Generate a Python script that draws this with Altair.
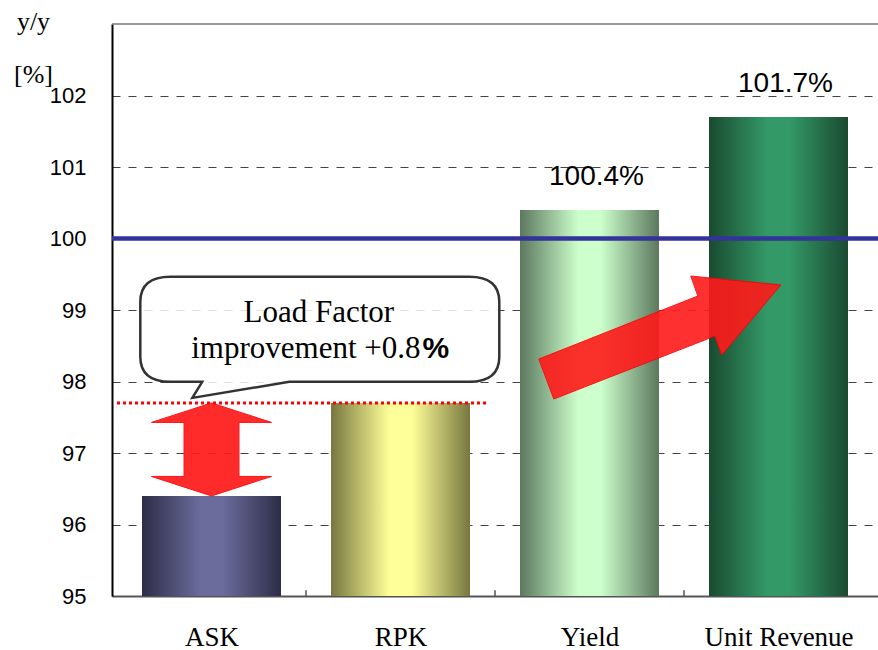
import json
import altair as alt
import pandas as pd

# ---------------- data ----------------
categories = ["ASK", "RPK", "Yield", "Unit Revenue"]
values = [96.4, 97.7, 100.4, 101.7]
labeled_categories = ["Yield", "Unit Revenue"]
y_domain = [95, 103]
y_ticks = [95, 96, 97, 98, 99, 100, 101, 102]
reference_level = 100
callout_line1 = "Load Factor"
callout_line2 = "improvement +0.8"
callout_pct = "%"
y_title_lines = ["y/y", "[%]"]

# annotation anchors, in data units (x: category units 0..4, y: percent)
dotted_line_x = [0.0, 1.96]
callout_x, callout_y = 1.073, 98.73
callout_text_x = 1.068
callout_split_x = 1.606
callout_text_y = [98.83, 98.33]
double_arrow_x = 0.5
diag_arrow_x, diag_arrow_y = 2.872, 98.615

# ---------------- styles ----------------
gradient_colors = {
    "ASK": ("#2d2d47", "#6b6b9c"),
    "RPK": ("#77773f", "#ffff99"),
    "Yield": ("#5c785e", "#ccffcc"),
    "Unit Revenue": ("#1a4a31", "#339966"),
}


def grad(edge, mid):
    return {
        "gradient": "linear", "x1": 0, "x2": 1, "y1": 0, "y2": 0,
        "stops": [
            {"offset": 0, "color": edge},
            {"offset": 0.42, "color": mid},
            {"offset": 0.58, "color": mid},
            {"offset": 1, "color": edge},
        ],
    }


SANS = "Liberation Sans"
SERIF = "Liberation Serif"
BAR_PX = 139

df = pd.DataFrame({"category": categories, "value": values})
df["pos"] = [i + 0.5 for i in range(len(categories))]
df["base"] = y_domain[0]
df["label"] = [f"{v}%" for v in values]

xscale = alt.Scale(domain=[0, len(categories)], nice=False, zero=False)
yscale = alt.Scale(domain=y_domain, nice=False, zero=False)

label_expr = f"{json.dumps(categories)}[floor(datum.value)]"

x_axis = alt.Axis(values=[i + 0.5 for i in range(len(categories))], labelExpr=label_expr,
                  labelFont=SERIF, labelFontSize=27, labelColor="black", labelAngle=0,
                  ticks=False, labelPadding=49, labelBaseline="alphabetic",
                  labelFlush=False, labelOverlap=False,
                  domainColor="#555555", domainWidth=2, grid=False)
y_axis = alt.Axis(values=y_ticks, labelFont=SANS, labelFontSize=22,
                  labelColor="black", ticks=False, labelPadding=26,
                  domainColor="black", domainWidth=2,
                  grid=True, gridDash=[8, 8], gridColor="#444444", gridWidth=1,
                  titleAngle=0, titleAlign="center", titleBaseline="alphabetic",
                  titleX=-79, titleY=5, titleLineHeight=53,
                  titleFont=SERIF, titleFontSize=26,
                  titleFontWeight="normal", titleColor="black")


def qx(field):
    return alt.X(field, type="quantitative", scale=xscale, axis=x_axis, title=None)


def qy(field):
    return alt.Y(field, type="quantitative", scale=yscale, axis=y_axis, title=y_title_lines)


bar_layers = []
for c in categories:
    edge, mid = gradient_colors[c]
    bar_layers.append(
        alt.Chart(df).transform_filter(alt.datum.category == c)
        .mark_bar(fill=grad(edge, mid), strokeWidth=0, size=BAR_PX)
        .encode(x=qx("pos"), y=qy("value"), y2=alt.Y2("base"))
    )

value_labels = (
    alt.Chart(df).transform_filter(alt.FieldOneOfPredicate(field="category", oneOf=labeled_categories))
    .mark_text(font=SANS, fontSize=28, color="black", baseline="alphabetic", dy=-25, dx=7)
    .encode(x=qx("pos"), y=qy("value"), text="label:N")
)

rpk_value = values[categories.index("RPK")]
ask_value = values[categories.index("ASK")]

top_border = alt.Chart(pd.DataFrame({"y": [y_domain[1]]})).mark_rule(
    color="#777777", strokeWidth=1.5).encode(y=qy("y"))

tick_df = pd.DataFrame({"x": list(range(1, len(categories))),
                        "y0": [y_domain[0]] * (len(categories) - 1),
                        "y1": [y_domain[0] + 0.08] * (len(categories) - 1)})
x_ticks = alt.Chart(tick_df).mark_rule(color="#555555", strokeWidth=1.5).encode(
    x=qx("x"), y=qy("y0"), y2=alt.Y2("y1"))

ref_line = alt.Chart(pd.DataFrame({"y": [reference_level]})).mark_rule(
    color="#333399", strokeWidth=4.5).encode(y=qy("y"))

dotted = alt.Chart(pd.DataFrame({"x0": [dotted_line_x[0]], "x1": [dotted_line_x[1]], "y": [rpk_value]})).mark_rule(
    color="#ff0000", strokeWidth=3, strokeDash=[3, 3]).encode(x=qx("x0"), x2=alt.X2("x1"), y=qy("y"))

callout_path = ("M -0.833 -0.2925 L 0.833 -0.2925 Q 1 -0.2925 1 -0.153 L 1 0.153 "
                "Q 1 0.2925 0.833 0.2925 L -0.170 0.2925 L -0.710 0.382 L -0.655 0.2925 "
                "L -0.833 0.2925 Q -1 0.2925 -1 0.153 L -1 -0.153 Q -1 -0.2925 -0.833 -0.2925 Z")
callout = alt.Chart(pd.DataFrame({"x": [callout_x], "y": [callout_y]})).mark_point(
    shape=callout_path, filled=True, fill="white", fillOpacity=0.85, stroke="#333333",
    strokeWidth=2.5, size=359 ** 2, opacity=1).encode(x=qx("x"), y=qy("y"))

text1 = alt.Chart(pd.DataFrame({"x": [callout_text_x], "y": [callout_text_y[0]], "t": [callout_line1]})).mark_text(
    font=SERIF, fontSize=31, color="black", baseline="alphabetic", align="center").encode(
    x=qx("x"), y=qy("y"), text="t:N")
text2 = alt.Chart(pd.DataFrame({"x": [callout_split_x], "y": [callout_text_y[1]], "t": [callout_line2]})).mark_text(
    font=SERIF, fontSize=31, color="black", baseline="alphabetic", align="right").encode(
    x=qx("x"), y=qy("y"), text="t:N")
text3 = alt.Chart(pd.DataFrame({"x": [callout_split_x], "y": [callout_text_y[1]], "t": [callout_pct]})).mark_text(
    font=SANS, fontSize=30, fontWeight="bold", color="black", baseline="alphabetic", align="left", dx=2).encode(
    x=qx("x"), y=qy("y"), text="t:N")

double_arrow_path = ("M 0 -0.775 L 1 -0.45 L 0.458 -0.45 L 0.458 0.45 L 1 0.45 L 0 0.775 "
                     "L -1 0.45 L -0.458 0.45 L -0.458 -0.45 L -1 -0.45 Z")
double_arrow = alt.Chart(pd.DataFrame({"x": [double_arrow_x], "y": [(ask_value + rpk_value) / 2]})).mark_point(
    shape=double_arrow_path, filled=True, fill="#ff1a1a", stroke="#ff0000", strokeWidth=1,
    size=120 ** 2, opacity=0.92).encode(x=qx("x"), y=qy("y"))

diag_arrow_path = ("M -1 0.178 L 0.314 -0.343 L 0.256 -0.508 L 1 -0.434 L 0.512 0.145 "
                   "L 0.455 -0.012 L -0.876 0.508 Z")
diag_arrow = alt.Chart(pd.DataFrame({"x": [diag_arrow_x], "y": [diag_arrow_y]})).mark_point(
    shape=diag_arrow_path, filled=True, fill="#ff1a1a", stroke="#ff0000", strokeWidth=1,
    size=242 ** 2, opacity=0.9).encode(x=qx("x"), y=qy("y"))

chart = (
    alt.layer(*bar_layers, value_labels, top_border, x_ticks, ref_line, dotted,
              callout, text1, text2, text3, double_arrow, diag_arrow)
    .properties(
        width=766, height=572,
        autosize=alt.AutoSizeParams(type="none"),
        padding={"left": 112, "top": 24, "right": 0, "bottom": 54},
        background="white",
    )
    .configure_view(stroke=None)
)

chart.save("out.html", embed_options={"renderer": "svg", "actions": False})
